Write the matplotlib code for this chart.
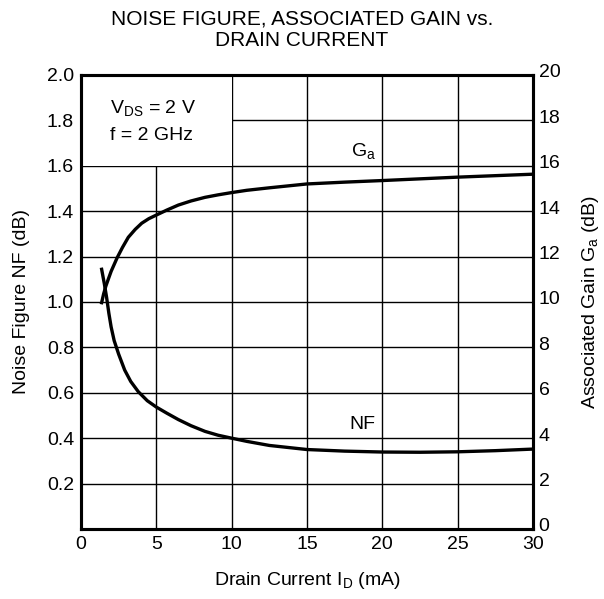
import matplotlib
matplotlib.use("Agg")
import matplotlib.pyplot as plt
import matplotlib.transforms as mtransforms
from matplotlib.patches import Rectangle

plt.rcParams["font.family"] = ["Liberation Sans", "DejaVu Sans"]
plt.rcParams["mathtext.fontset"] = "custom"
plt.rcParams["mathtext.rm"] = "Liberation Sans"
plt.rcParams["mathtext.it"] = "Liberation Sans"

id_nf = [1.37, 1.55, 1.70, 1.85, 2.0, 2.2, 2.5, 2.9, 3.3, 3.8, 4.4, 5.0, 5.7, 6.46, 7.3, 8.23, 9.1,
         10.0, 11.0, 12.5, 15.0, 17.5, 20.0, 22.5, 25.0, 27.5, 30.0]
nf = [1.144, 1.08, 1.02, 0.95, 0.89, 0.83, 0.77, 0.70, 0.65, 0.605, 0.565, 0.537, 0.51, 0.482, 0.455,
      0.43, 0.413, 0.40, 0.386, 0.368, 0.350, 0.343, 0.339, 0.338, 0.340, 0.345, 0.352]

id_ga = [1.37, 1.5, 1.65, 1.81, 2.0, 2.2, 2.4, 2.75, 3.14, 3.6, 4.03, 4.5, 5.0, 5.7, 6.46, 7.3, 8.23,
         9.1, 10.0, 11.0, 12.5, 15.0, 17.5, 20.0, 25.0, 30.0]
ga = [9.97, 10.35, 10.7, 11.0, 11.35, 11.65, 11.95, 12.4, 12.85, 13.2, 13.47, 13.67, 13.83, 14.05,
      14.27, 14.45, 14.61, 14.72, 14.82, 14.92, 15.03, 15.2, 15.28, 15.35, 15.5, 15.63]

x_ticks = [0, 5, 10, 15, 20, 25, 30]
nf_ticks = [0.2, 0.4, 0.6, 0.8, 1.0, 1.2, 1.4, 1.6, 1.8, 2.0]
ga_ticks = [0, 2, 4, 6, 8, 10, 12, 14, 16, 18, 20]

fig = plt.figure(figsize=(6.04, 5.99), dpi=100)
ax = fig.add_axes([0.1341, 0.1169, 0.7484, 0.7579])
ax.set_xlim(0, 30)
ax.set_ylim(0, 2.0)
ax.set_xticks(x_ticks)
ax.set_yticks(nf_ticks)
ax.set_yticklabels(["%.1f" % v for v in nf_ticks])
ax.tick_params(length=0, labelsize=14, pad=5)
ax.set_axisbelow(True)
ax.grid(True, color="black", linewidth=1.0)
for s in ax.spines.values():
    s.set_linewidth(2.2)

# blank corner for the condition text
ax.add_patch(Rectangle((0, 1.6), 10, 0.4, facecolor="white", edgecolor="none", zorder=1))

ax.plot(id_nf, nf, color="black", linewidth=2.4, zorder=3, solid_joinstyle="round")

ax2 = ax.twinx()
ax2.set_ylim(0, 20)
ax2.set_yticks(ga_ticks)
ax2.tick_params(length=0, labelsize=14, pad=4)
for s in ax2.spines.values():
    s.set_linewidth(2.2)
ax2.plot(id_ga, ga, color="black", linewidth=2.4, zorder=3, solid_joinstyle="round")

# right labels sit a little high in the original
up = mtransforms.ScaledTranslation(0, 4 / 100, fig.dpi_scale_trans)
for lbl in ax2.get_yticklabels():
    lbl.set_transform(lbl.get_transform() + up)

ax.text(1.9, 1.855, r"V$_{\rm DS}$ = 2 V", fontsize=14, va="center", ha="left")
ax.text(1.9, 1.735, "f = 2 GHz", fontsize=14, va="center", ha="left")
ax.text(17.9, 1.665, r"G$_{\rm a}$", fontsize=14, va="center", ha="left")
ax.text(17.8, 0.46, "NF", fontsize=14, va="center", ha="left")

ax.set_xlabel(r"Drain Current I$_{\rm D}$ (mA)", fontsize=14, labelpad=12)
ax.set_ylabel("Noise Figure NF (dB)", fontsize=14, labelpad=12)
ax2.set_ylabel(r"Associated Gain G$_{\rm a}$ (dB)", fontsize=14, labelpad=14)

fig.text(0.5, 0.969, "NOISE FIGURE, ASSOCIATED GAIN vs.", ha="center", va="center", fontsize=15)
fig.text(0.5, 0.933, "DRAIN CURRENT", ha="center", va="center", fontsize=15)

fig.savefig("out.png", dpi=100)
